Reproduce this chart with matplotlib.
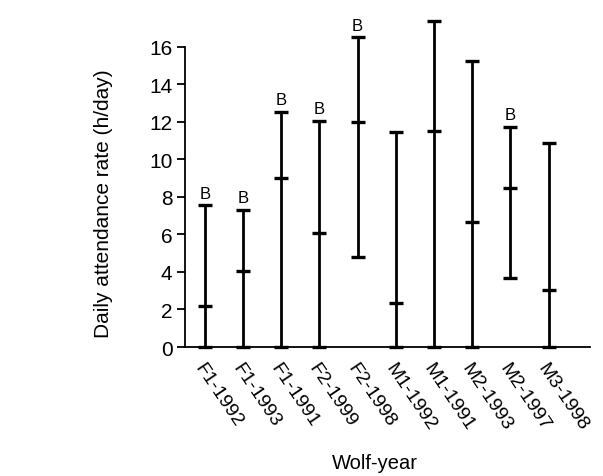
import matplotlib
matplotlib.use('Agg')
import matplotlib.pyplot as plt
import numpy as np

plt.rcParams['font.family'] = ['Liberation Sans', 'DejaVu Sans']

wolf_years = ['F1-1992', 'F1-1993', 'F1-1991', 'F2-1999', 'F2-1998',
              'M1-1992', 'M1-1991', 'M2-1993', 'M2-1997', 'M3-1998']
rate_min = [0, 0, 0, 0, 4.8, 0, 0, 0, 3.7, 0]
rate_mean = [2.2, 4.05, 9.0, 6.1, 12.0, 2.35, 11.5, 6.65, 8.5, 3.05]
rate_max = [7.55, 7.3, 12.55, 12.05, 16.5, 11.45, 17.4, 15.25, 11.75, 10.85]
group_label = ['B', 'B', 'B', 'B', 'B', '', '', '', 'B', '']

x = np.arange(len(wolf_years))
mean = np.array(rate_mean)
lo = mean - np.array(rate_min)
hi = np.array(rate_max) - mean

fig = plt.figure(figsize=(6.03, 4.77), dpi=100)
ax = fig.add_axes([0.307, 0.2704, 0.671, 0.7296])

# range bars: min / max caps plus a tick at the mean
ax.errorbar(x, mean, yerr=[lo, hi], fmt='none', ecolor='black',
            elinewidth=2, capsize=5, capthick=2.4, clip_on=False)
ax.plot(x, mean, linestyle='none', marker='_', markersize=10,
        markeredgewidth=2.4, color='black', clip_on=False)

for xi, top, lab in zip(x, rate_max, group_label):
    if lab:
        ax.text(xi, top + 0.25, lab, ha='center', va='bottom', fontsize=12)

ax.set_xlim(-0.52, 10.08)
ax.set_ylim(0, 18.55)
ax.spines['left'].set_bounds(0, 16)
for s in ['top', 'right']:
    ax.spines[s].set_visible(False)
ax.spines['left'].set_linewidth(1.3)
ax.spines['bottom'].set_linewidth(1.3)

ax.set_yticks(np.arange(0, 17, 2))
ax.tick_params(axis='y', labelsize=15, length=6, width=1.3, pad=3)
ax.set_xticks(x)
ax.set_xticklabels(wolf_years, rotation=-56, ha='left', va='top',
                   rotation_mode='anchor', fontsize=14)
ax.tick_params(axis='x', length=0, pad=9)

ax.set_ylabel('Daily attendance rate (h/day)', fontsize=15)
ax.yaxis.set_label_coords(-0.178, 0.414)
ax.set_xlabel('Wolf-year', fontsize=14.5)
ax.xaxis.set_label_coords(0.47, -0.305)

fig.savefig('out.png', dpi=100)
